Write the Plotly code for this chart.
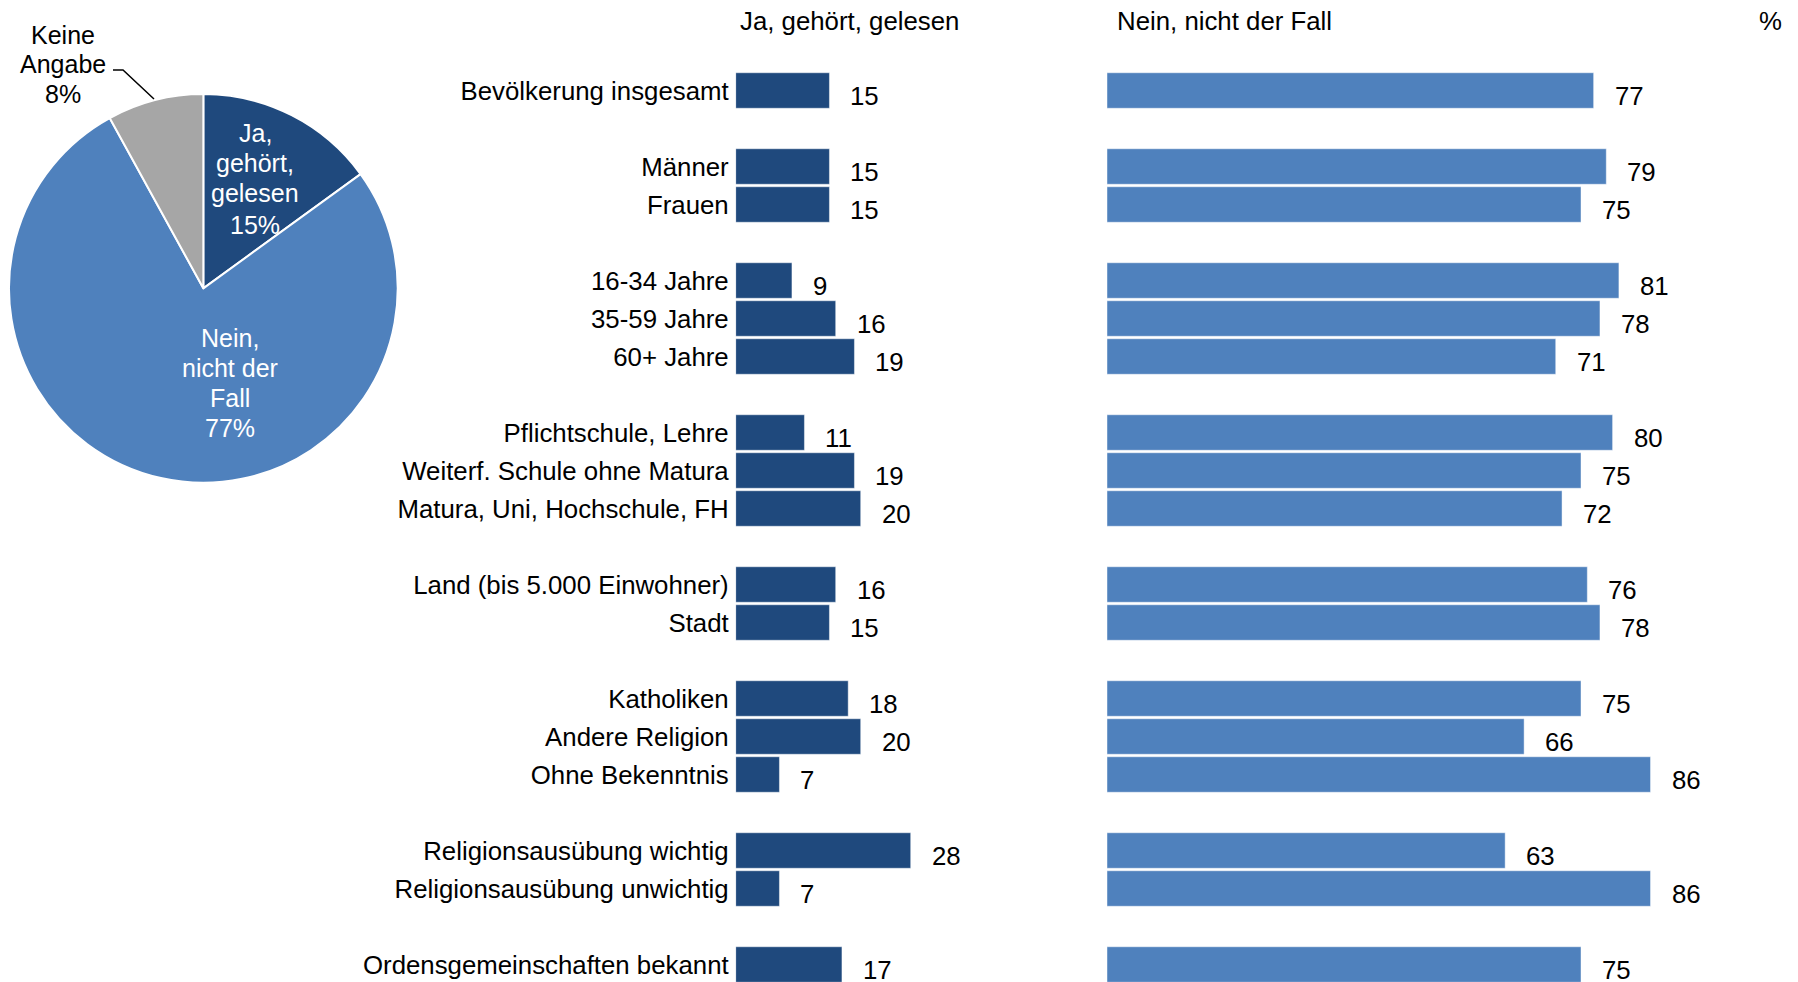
import plotly.graph_objects as go

# ---------------- data ----------------
groups = [
    ["Bevölkerung insgesamt"],
    ["Männer", "Frauen"],
    ["16-34 Jahre", "35-59 Jahre", "60+ Jahre"],
    ["Pflichtschule, Lehre", "Weiterf. Schule ohne Matura", "Matura, Uni, Hochschule, FH"],
    ["Land (bis 5.000 Einwohner)", "Stadt"],
    ["Katholiken", "Andere Religion", "Ohne Bekenntnis"],
    ["Religionsausübung wichtig", "Religionsausübung unwichtig"],
    ["Ordensgemeinschaften bekannt"],
]
ja_values = [15, 15, 15, 9, 16, 19, 11, 19, 20, 16, 15, 18, 20, 7, 28, 7, 17]
nein_values = [77, 79, 75, 81, 78, 71, 80, 75, 72, 76, 78, 75, 66, 86, 63, 86, 75]

pie_labels = ["Ja, gehört, gelesen", "Nein, nicht der Fall", "Keine Angabe"]
pie_values = [15, 77, 8]
pie_text_lines = [
    ["Ja,", "gehört,", "gelesen", "15%"],
    ["Nein,", "nicht der", "Fall", "77%"],
    ["Keine", "Angabe", "8%"],
]

header_ja = "Ja, gehört, gelesen"
header_nein = "Nein, nicht der Fall"
header_unit = "%"

# ---------------- style ----------------
W, H = 1798, 982
OFF = 8  # page body margin
DARK = "#1F497D"
LIGHT = "#4F81BD"
GREY = "#A6A6A6"
FONT = "Liberation Sans, Arial, sans-serif"
FS = 25.8

categories = [c for g in groups for c in g]
row_order = []
for i, g in enumerate(groups):
    if i > 0:
        row_order.append(f"gap{i}")
    row_order.extend(g)

PXU1 = 6.25   # pixels per percent, left panel
PXU2 = 6.32   # pixels per percent, right panel
x1_start, x1_end = 735.7, 1100
x2_start = 1107
ROW = 38.0
row0_center = 90.5


def px(x):
    return (x - OFF) / W


def py(y):
    return 1 - (y - OFF) / H


fig = go.Figure()

fig.add_trace(go.Pie(
    labels=pie_labels, values=pie_values, sort=False, direction="clockwise",
    rotation=0, marker=dict(colors=[DARK, LIGHT, GREY], line=dict(color="white", width=2)),
    textinfo="none", hoverinfo="skip", showlegend=False,
    domain=dict(x=[px(9), px(397.7)], y=[py(482.7), py(94)]),
))

bar_line = dict(color="rgba(255,255,255,0.45)", width=1)
fig.add_trace(go.Bar(
    y=categories, x=ja_values, orientation="h", xaxis="x", yaxis="y",
    marker=dict(color=DARK, line=bar_line),
    width=0.934, showlegend=False, hoverinfo="skip",
))
fig.add_trace(go.Bar(
    y=categories, x=nein_values, orientation="h", xaxis="x2", yaxis="y2",
    marker=dict(color=LIGHT, line=bar_line),
    width=0.934, showlegend=False, hoverinfo="skip",
))

annotations = []
for c, v in zip(categories, ja_values):
    annotations.append(dict(x=v, y=c, xref="x", yref="y", text=str(v), showarrow=False,
                            xanchor="left", yanchor="middle", xshift=19, yshift=-5,
                            font=dict(size=FS, color="black", family=FONT)))
for c, v in zip(categories, nein_values):
    annotations.append(dict(x=v, y=c, xref="x2", yref="y2", text=str(v), showarrow=False,
                            xanchor="left", yanchor="middle", xshift=19, yshift=-5,
                            font=dict(size=FS, color="black", family=FONT)))

# headers
for txt, x in [(header_ja, 737.5), (header_nein, 1115), (header_unit, 1757)]:
    annotations.append(dict(x=px(x), y=py(21), xref="paper", yref="paper", text=txt,
                            showarrow=False, xanchor="left", yanchor="middle",
                            font=dict(size=FS, color="black", family=FONT)))

# pie labels (one annotation per line)
pie_label_pos = [
    (255, [133, 163, 193, 225], "white"),
    (230, [338, 368, 398, 428], "white"),
    (63, [35, 64, 94], "black"),
]
for lines, (cx, ys, col) in zip(pie_text_lines, pie_label_pos):
    for t, y in zip(lines, ys):
        annotations.append(dict(x=px(cx), y=py(y), xref="paper", yref="paper", text=t,
                                showarrow=False, xanchor="center", yanchor="middle",
                                font=dict(size=25, color=col, family=FONT)))

shapes = [dict(type="path", xref="paper", yref="paper",
               path=f"M {px(113)},{py(70)} L {px(123)},{py(70)} L {px(154)},{py(99)}",
               line=dict(color="black", width=1.5))]

# category index range so that row centres fall on the reference pixel rows
top_idx = -(row0_center - OFF) / ROW
bot_idx = (len(row_order) - 1) + (H - (row0_center - OFF + ROW * (len(row_order) - 1))) / ROW
yrange = [bot_idx, top_idx]

fig.update_layout(
    width=W, height=H, autosize=False, template="none",
    margin=dict(l=0, r=0, t=0, b=0, pad=0),
    paper_bgcolor="white", plot_bgcolor="white",
    font=dict(family=FONT, size=FS, color="black"),
    xaxis=dict(domain=[px(x1_start), px(x1_end)], range=[0, (x1_end - x1_start) / PXU1],
               visible=False, fixedrange=True),
    xaxis2=dict(domain=[px(x2_start), 1], range=[0, (W + OFF - x2_start) / PXU2],
                visible=False, fixedrange=True),
    yaxis=dict(type="category", categoryorder="array", categoryarray=row_order,
               range=yrange, autorange=False, anchor="x", domain=[0, 1],
               tickmode="array", tickvals=categories, ticktext=categories,
               showgrid=False, zeroline=False, showline=False, ticks="",
               ticklabelstandoff=6, tickfont=dict(size=FS, color="black", family=FONT)),
    yaxis2=dict(type="category", categoryorder="array", categoryarray=row_order,
                range=yrange, autorange=False, anchor="x2", domain=[0, 1],
                showticklabels=False, showgrid=False, zeroline=False, showline=False),
    annotations=annotations, shapes=shapes,
)

fig.write_html("out.html")
